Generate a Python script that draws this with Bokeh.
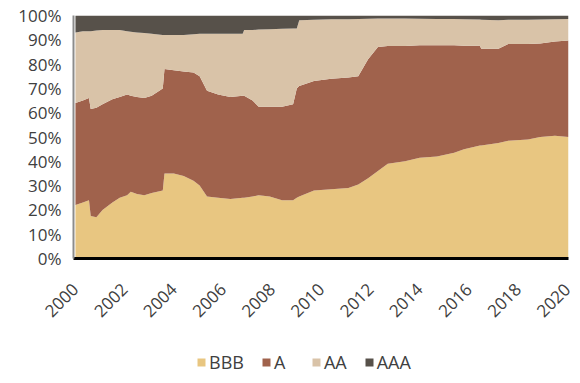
import math
from bokeh.plotting import figure
from bokeh.layouts import column
from bokeh.models import (Legend, LegendItem, FixedTicker, ColumnDataSource,
                          Range1d, CustomJSTickFormatter)
from bokeh.embed import file_html
from bokeh.resources import INLINE

years = [2000.00, 2000.30, 2000.55, 2000.62, 2000.85, 2001.10, 2001.50, 2001.80,
         2002.10, 2002.25, 2002.50, 2002.80, 2003.10, 2003.55, 2003.62, 2004.00,
         2004.40, 2004.80, 2005.05, 2005.35, 2005.80, 2006.30, 2006.80, 2006.86,
         2007.20, 2007.45, 2007.90, 2008.40, 2008.85, 2009.00, 2009.10, 2009.70,
         2010.40, 2011.10, 2011.50, 2011.90, 2012.30, 2012.70, 2013.40, 2014.00,
         2014.70, 2015.40, 2015.80, 2016.45, 2016.50, 2017.20, 2017.60, 2018.40,
         2018.90, 2019.50, 2020.05]
bbb = [22, 23, 24, 17.5, 17, 20, 23, 25, 26, 27.5, 26.5, 26, 27, 28, 35, 35,
       34, 32, 30, 25.5, 25, 24.5, 25, 25, 25.5, 26, 25.5, 24, 24, 25, 25.5, 28,
       28.5, 29, 30.5, 33, 36, 39, 40, 41.5, 42, 43.5, 45, 46.5, 46.5, 47.5, 48.5,
       49, 50, 50.5, 50]
a = [42, 42, 42, 44, 45, 43.5, 42.5, 41.5, 41.5, 39.5, 40, 40, 40, 42, 43, 42.5,
     43, 44.5, 45, 43.5, 42.5, 42, 42, 42, 39.5, 36.5, 37, 38.5, 39.5, 45, 45.5, 45,
     45.5, 45.5, 44.5, 49, 51, 48.5, 47.5, 46.3, 45.8, 44.3, 42.6, 41.1, 39.8, 38.8,
     39.8, 39.3, 38.5, 38.8, 39.7]
aa = [29, 28.5, 27.5, 32, 31.8, 30.5, 28.5, 27.5, 26, 26.3, 26.5, 26.8, 25.5, 22,
      14, 14.5, 15, 15.8, 17.5, 23.5, 25, 26, 25.5, 27, 29, 31.7, 31.8, 32, 31.1,
      24.6, 27, 25.3, 24.5, 24, 23.6, 16.7, 11.8, 11.3, 11.3, 10.9, 10.8, 10.8,
      10.9, 10.8, 12, 11.7, 9.9, 10, 9.9, 9.2, 8.9]
aaa = [7, 6.5, 6.5, 6.5, 6.2, 6, 6, 6, 6.5, 6.7, 7, 7.2, 7.5, 8, 8, 8, 8, 7.7,
       7.5, 7.5, 7.5, 7.5, 7.5, 6, 6, 5.8, 5.7, 5.5, 5.4, 5.4, 2, 1.7, 1.5, 1.5,
       1.4, 1.3, 1.2, 1.2, 1.2, 1.3, 1.4, 1.4, 1.5, 1.6, 1.7, 2, 1.8, 1.7, 1.6,
       1.5, 1.4]
series_names = ["BBB", "A", "AA", "AAA"]
series_colors = ["#E8C681", "#A0624C", "#D9C3A8", "#57514A"]
x_ticks = [2000, 2002, 2004, 2006, 2008, 2010, 2012, 2014, 2016, 2018, 2020]
y_ticks = [0, 10, 20, 30, 40, 50, 60, 70, 80, 90, 100]

source = ColumnDataSource(dict(year=years, BBB=bbb, A=a, AA=aa, AAA=aaa))

p = figure(width=580, height=325, output_backend="svg", toolbar_location=None,
           min_border_left=73, min_border_right=12, min_border_top=15,
           min_border_bottom=66,
           x_range=Range1d(1999.92, 2020.05), y_range=Range1d(0, 100))
p.outline_line_color = None
p.xgrid.visible = False
p.ygrid.visible = False

p.varea_stack(stackers=series_names, x="year", color=series_colors, source=source)

p.yaxis.ticker = FixedTicker(ticks=y_ticks)
p.yaxis.formatter = CustomJSTickFormatter(code="return tick + '%';")
p.yaxis.axis_line_color = "#8C8C8C"
p.yaxis.axis_line_width = 2
p.yaxis.major_tick_line_color = None
p.yaxis.minor_tick_line_color = None
p.yaxis.major_label_text_font = "Open Sans"
p.yaxis.major_label_text_font_size = "17px"
p.yaxis.major_label_text_color = "#404040"
p.yaxis.major_label_standoff = 6

p.xaxis.ticker = FixedTicker(ticks=x_ticks)
p.xaxis.axis_line_color = "black"
p.xaxis.axis_line_width = 3
p.xaxis.major_tick_line_color = None
p.xaxis.minor_tick_line_color = None
p.xaxis.major_label_orientation = math.pi / 4
p.xaxis.major_label_text_font = "Open Sans"
p.xaxis.major_label_text_font_size = "17px"
p.xaxis.major_label_text_color = "#404040"
p.xaxis.major_label_standoff = 22

# legend-only figure under the chart (its areas lie outside its own range)
lg = figure(width=580, height=58, output_backend="svg", toolbar_location=None,
            min_border=0, x_range=Range1d(0, 1), y_range=Range1d(0, 1))
lg.axis.visible = False
lg.grid.visible = False
lg.outline_line_color = None
leg_renderers = lg.varea_stack(stackers=series_names, x="year",
                               color=series_colors, source=source)
items = [LegendItem(label=n, renderers=[r]) for n, r in zip(series_names, leg_renderers)]
legend = Legend(items=items, orientation="horizontal", location=(123, 9),
                label_text_font="Open Sans", label_text_font_size="18px",
                label_text_color="#404040", glyph_width=10, glyph_height=10,
                spacing=17, label_standoff=3, border_line_color=None,
                background_fill_alpha=0, margin=0, padding=4)
lg.add_layout(legend, "center")

layout = column(p, lg, spacing=0)
open("out.html", "w").write(file_html(layout, INLINE))
